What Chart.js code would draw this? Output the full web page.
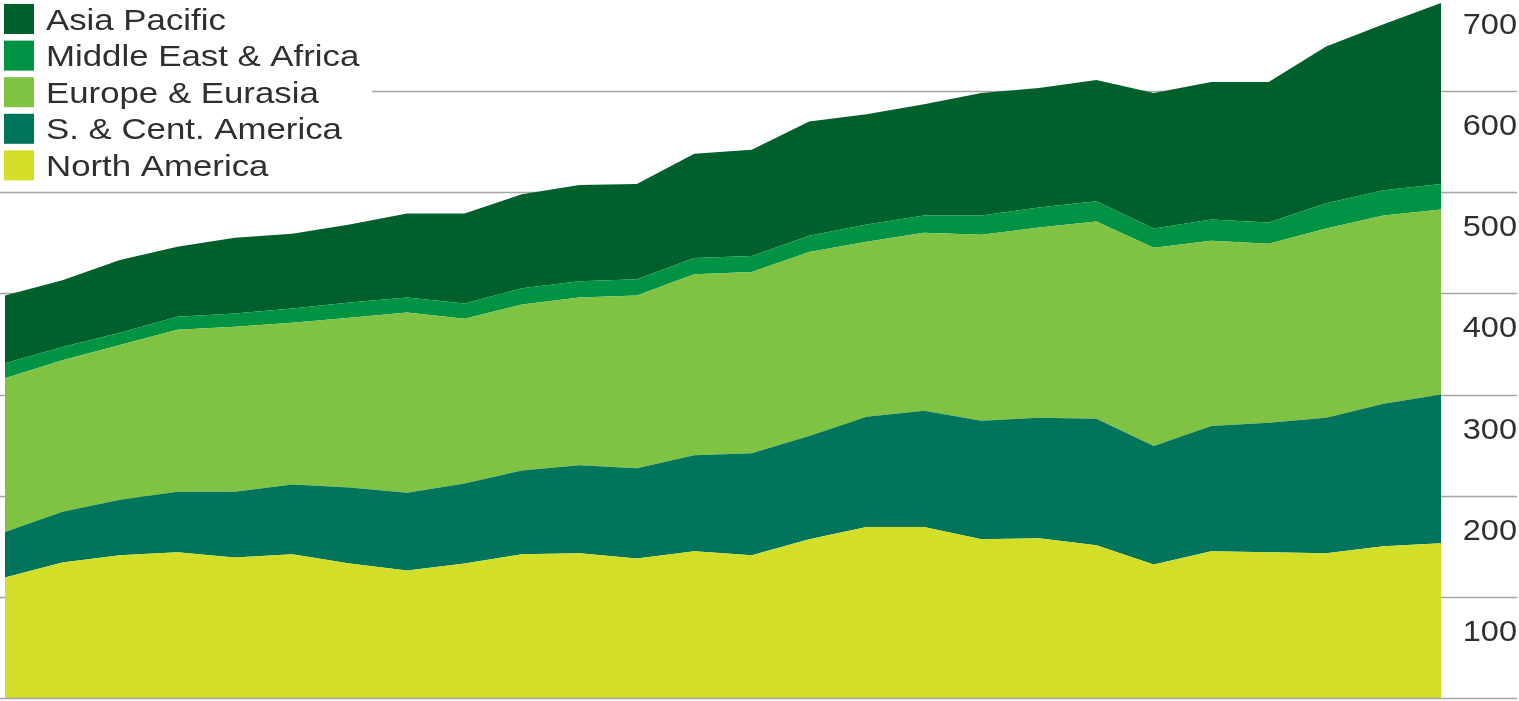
<!DOCTYPE html>
<html>
<head>
<meta charset="utf-8">
<title>Consumo por región</title>
<script src="https://cdn.jsdelivr.net/npm/chart.js@4.4.1/dist/chart.umd.min.js"></script>
<style>
  html,body{margin:0;padding:0;background:#fff;}
  #wrap{position:relative;width:1519px;height:701px;}
</style>
</head>
<body>
<div id="wrap"><canvas id="chartRegiones"></canvas></div>
<script>
// datos (apilados, de abajo hacia arriba)
const years = [1983,1984,1985,1986,1987,1988,1989,1990,1991,1992,1993,1994,1995,
               1996,1997,1998,1999,2000,2001,2002,2003,2004,2005,2006,2007,2008];
const northAmerica  = [119,134,141,144,139,142,133,126,133,142,143,138,145,141,157,169,169,157,158,151,132,145,144,143,150,153];
const southCentAm   = [45,50,55,60,65,69,75,77,79,83,87,89,95,101,102,109,115,117,119,125,117,124,128,134,141,147];
const europeEurasia = [152,150,153,160,163,160,168,178,163,164,166,171,179,179,182,173,176,184,188,195,196,183,177,187,186,183];
const middleEastAfr = [15,13,12,13,13,14,15,15,15,16,16,16,16,16,16,17,17,19,20,20,19,21,21,25,25,25];
const asiaPacific   = [67,66,72,69,75,74,77,83,89,93,95,94,103,105,113,109,110,121,118,120,134,136,139,155,164,179];
const yTicks = [100,200,300,400,500,600,700];

const FONT = '"Liberation Sans", Arial, Helvetica, sans-serif';
const TEXT_COLOR = '#2f2f2f';
const GRID_COLOR = '#a5a5a5';

function serie(label, data, color, fill){
  return { label, data, backgroundColor: color, borderColor: color, borderWidth: 0,
           pointRadius: 0, pointHoverRadius: 0, tension: 0, fill };
}

// gridlines across the full width, tick labels under their line, legend top-left
const marco = {
  id: 'marco',
  beforeDatasetsDraw(chart){
    const ctx = chart.ctx, y = chart.scales.y;
    ctx.save();
    ctx.strokeStyle = GRID_COLOR; ctx.lineWidth = 1.5;
    yTicks.forEach(v=>{
      const py = Math.round(y.getPixelForValue(v)) + 0.5;
      ctx.beginPath(); ctx.moveTo(0, py); ctx.lineTo(chart.width - 2, py); ctx.stroke();
    });
    ctx.restore();
  },
  afterDatasetsDraw(chart){
    const ctx = chart.ctx, y = chart.scales.y;
    ctx.save();
    // base line
    const p0 = Math.round(y.getPixelForValue(0)) + 0.5;
    ctx.strokeStyle = GRID_COLOR; ctx.lineWidth = 1.5;
    ctx.beginPath(); ctx.moveTo(0, p0); ctx.lineTo(chart.width - 2, p0); ctx.stroke();

    // tick labels
    ctx.fillStyle = TEXT_COLOR;
    ctx.font = '29px ' + FONT;
    ctx.textAlign = 'right'; ctx.textBaseline = 'alphabetic';
    yTicks.forEach(v=>{
      ctx.save();
      ctx.translate(chart.width - 2, y.getPixelForValue(v) + 44);
      ctx.scale(1.12, 1);
      ctx.fillText(String(v), 0, 0);
      ctx.restore();
    });

    // legend (top series first)
    ctx.fillStyle = '#fff';
    ctx.fillRect(0, 0, 372, 186);
    const items = chart.data.datasets.slice().reverse();
    items.forEach((ds, i)=>{
      const top = 4 + i*36.6;
      ctx.fillStyle = ds.backgroundColor;
      ctx.fillRect(4, top, 30, 30);
      ctx.save();
      ctx.fillStyle = TEXT_COLOR;
      ctx.font = '29px ' + FONT;
      ctx.textAlign = 'left';
      ctx.translate(46, top + 25.5);
      ctx.scale(1.2, 1);
      ctx.fillText(ds.label, 0, 0);
      ctx.restore();
    });
    ctx.restore();
  }
};

new Chart(document.getElementById('chartRegiones'), {
  type: 'line',
  data: {
    labels: years,
    datasets: [
      serie('North America', northAmerica, '#d2de27', 'origin'),
      serie('S. & Cent. America', southCentAm, '#00755c', '-1'),
      serie('Europe & Eurasia', europeEurasia, '#80c342', '-1'),
      serie('Middle East & Africa', middleEastAfr, '#009344', '-1'),
      serie('Asia Pacific', asiaPacific, '#00602b', '-1')
    ]
  },
  options: {
    responsive: true, maintainAspectRatio: false, animation: false,
    devicePixelRatio: 1,
    layout: { padding: { left: 5, right: 78, top: 0, bottom: 3 } },
    plugins: { legend: { display: false }, tooltip: { enabled: false } },
    scales: {
      x: { display: false, offset: false },
      y: { display: false, stacked: true, min: 0, max: 690 }
    }
  },
  plugins: [marco]
});
</script>
</body>
</html>
